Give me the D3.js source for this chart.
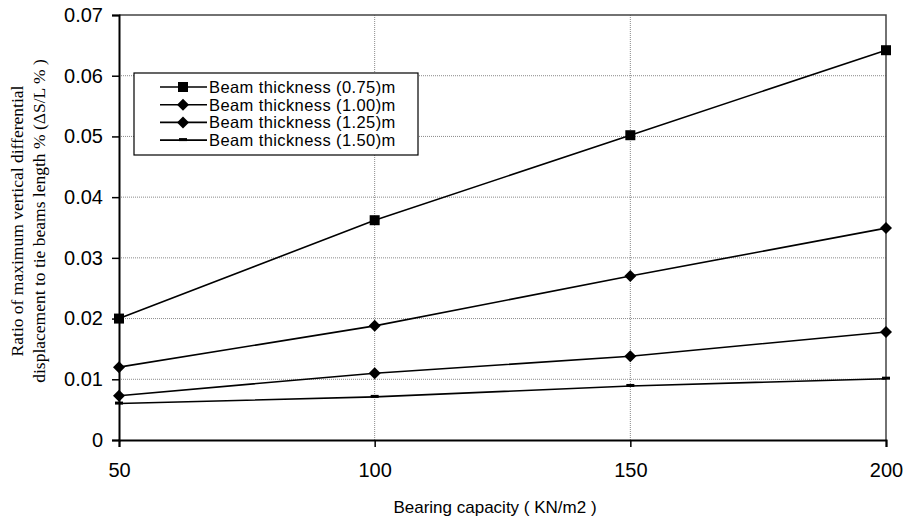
<!DOCTYPE html>
<html>
<head>
<meta charset="utf-8">
<script src="https://cdn.jsdelivr.net/npm/d3@7"></script>
<style>
  body { margin: 0; background: #fff; }
  svg { display: block; }
</style>
</head>
<body>
<div id="chart"></div>
<script>
// DATA
const bearing = [50, 100, 150, 200];
const thick075 = [0.020, 0.0362, 0.0502, 0.0642];
const thick100 = [0.012, 0.0188, 0.027, 0.0349];
const thick125 = [0.0073, 0.011, 0.0138, 0.0178];
const thick150 = [0.006, 0.0071, 0.0089, 0.0101];
const seriesNames = ["Beam thickness (0.75)m", "Beam thickness (1.00)m", "Beam thickness (1.25)m", "Beam thickness (1.50)m"];
const seriesMarkers = ["square", "diamond", "diamond", "dash"];
const yTicks = [0, 0.01, 0.02, 0.03, 0.04, 0.05, 0.06, 0.07];
const xTicks = [50, 100, 150, 200];

const series = [thick075, thick100, thick125, thick150].map((vals, i) => ({
  name: seriesNames[i],
  marker: seriesMarkers[i],
  points: vals.map((v, j) => ({ x: bearing[j], y: v }))
}));

// SVG DIMENSIONS
const width = 905, height = 525;
const margin = { top: 15, right: 19, bottom: 85, left: 119 };
const svg = d3.select("#chart").append("svg")
  .attr("width", width)
  .attr("height", height);

const x = d3.scaleLinear().domain([50, 200]).range([margin.left, width - margin.right]);
const y = d3.scaleLinear().domain([0, 0.07]).range([height - margin.bottom, margin.top]);

// grid
svg.append("g")
  .selectAll("line")
  .data(yTicks.slice(1, -1))
  .join("line")
    .attr("x1", x(50)).attr("x2", x(200))
    .attr("y1", d => y(d)).attr("y2", d => y(d))
    .attr("stroke", "#8a8a8a")
    .attr("stroke-width", 1)
    .attr("stroke-dasharray", "1,1");
svg.append("g")
  .selectAll("line")
  .data(xTicks.slice(1, -1))
  .join("line")
    .attr("x1", d => x(d)).attr("x2", d => x(d))
    .attr("y1", y(0)).attr("y2", y(0.07))
    .attr("stroke", "#8a8a8a")
    .attr("stroke-width", 1)
    .attr("stroke-dasharray", "1,1");

// frame (top & right)
svg.append("path")
  .attr("d", `M${x(50)},${y(0.07)}H${x(200)}V${y(0)}`)
  .attr("fill", "none")
  .attr("stroke", "#444")
  .attr("stroke-width", 1.5);

// axes
const xAxis = svg.append("g")
  .attr("transform", `translate(0,${y(0)})`)
  .call(d3.axisBottom(x).tickValues(xTicks).tickSize(7).tickPadding(16).tickFormat(d3.format("d")));
const yAxis = svg.append("g")
  .attr("transform", `translate(${x(50)},0)`)
  .call(d3.axisLeft(y).tickValues(yTicks).tickSize(7).tickPadding(9)
    .tickFormat(d => d === 0 ? "0" : d3.format(".2f")(d)));
[xAxis, yAxis].forEach(a => {
  a.select(".domain").attr("stroke", "#000").attr("stroke-width", 2);
  a.selectAll(".tick line").attr("stroke", "#000").attr("stroke-width", 1.5);
  a.selectAll(".tick text")
    .attr("fill", "#000")
    .style("font-family", "Liberation Sans, Arial, sans-serif")
    .style("font-size", "20px");
});

// lines
const line = d3.line().x(d => x(d.x)).y(d => y(d.y));
svg.append("g")
  .selectAll("path")
  .data(series)
  .join("path")
    .attr("d", d => line(d.points))
    .attr("fill", "none")
    .attr("stroke", "#000")
    .attr("stroke-width", 1.6);

// markers
function drawMarker(g, type) {
  if (type === "square") {
    g.append("rect").attr("x", -5).attr("y", -5).attr("width", 10).attr("height", 10).attr("fill", "#000");
  } else if (type === "diamond") {
    g.append("path").attr("d", "M0,-6L6,0L0,6L-6,0Z").attr("fill", "#000");
  } else {
    g.append("rect").attr("x", -4).attr("y", -2).attr("width", 8).attr("height", 3).attr("fill", "#000");
  }
}
series.forEach(s => {
  svg.append("g")
    .selectAll("g")
    .data(s.points)
    .join("g")
      .attr("transform", d => `translate(${x(d.x)},${y(d.y)})`)
      .each(function () { drawMarker(d3.select(this), s.marker); });
});

// legend
const legend = svg.append("g").attr("transform", "translate(134,73)");
legend.append("rect")
  .attr("width", 284).attr("height", 82)
  .attr("fill", "#fff")
  .attr("stroke", "#000")
  .attr("stroke-width", 1.2);
series.forEach((s, i) => {
  const row = legend.append("g").attr("transform", `translate(0,${14 + i * 17.7})`);
  row.append("line").attr("x1", 26).attr("x2", 73).attr("stroke", "#000").attr("stroke-width", 1.6);
  drawMarker(row.append("g").attr("transform", "translate(49,0)"), s.marker);
  row.append("text")
    .attr("x", 75).attr("y", 6)
    .style("font-family", "Liberation Sans, Arial, sans-serif")
    .style("font-size", "16.5px")
    .style("letter-spacing", "0.4px")
    .text(s.name);
});

// axis titles
svg.append("text")
  .attr("x", 495).attr("y", 513)
  .attr("text-anchor", "middle")
  .style("font-family", "Liberation Sans, Arial, sans-serif")
  .style("font-size", "17px")
  .text("Bearing capacity ( KN/m2 )");

const yTitle = svg.append("text")
  .attr("transform", "translate(0,221) rotate(-90)")
  .attr("text-anchor", "middle")
  .style("font-family", "Liberation Serif, Times New Roman, serif")
  .style("font-size", "17.5px");
yTitle.append("tspan").attr("x", 0).attr("y", 23).text("Ratio of maximum vertical differential");
yTitle.append("tspan").attr("x", 0).attr("y", 45).text("displacement to tie beams length % (ΔS/L % )");
</script>
</body>
</html>
